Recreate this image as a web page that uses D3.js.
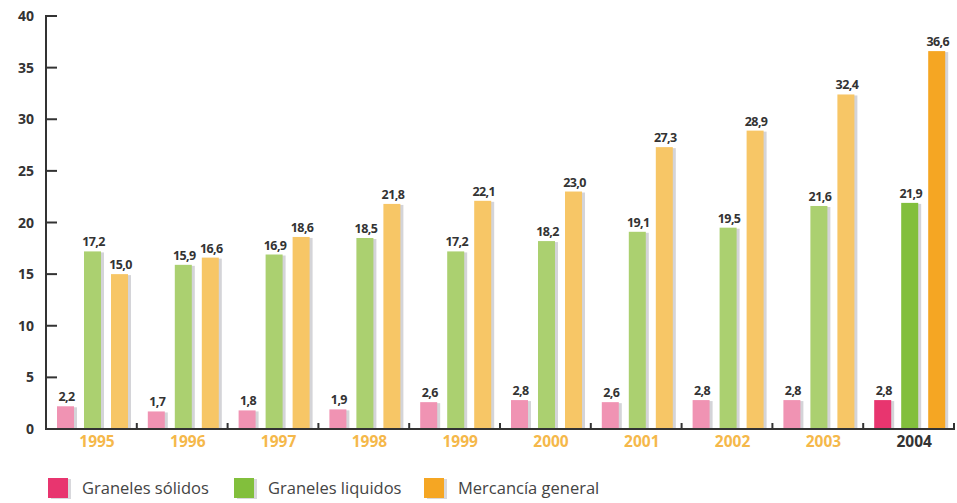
<!DOCTYPE html>
<html><head><meta charset="utf-8">
<script src="https://cdn.jsdelivr.net/npm/d3@7"></script>
<style>body{margin:0;background:#fff}svg{display:block}</style>
</head><body><svg id="c" width="957" height="503"></svg>
<script>
const years = ["1995","1996","1997","1998","1999","2000","2001","2002","2003","2004"];
const series = ["Graneles sólidos","Graneles liquidos","Mercancía general"];
const solidos = [2.2,1.7,1.8,1.9,2.6,2.8,2.6,2.8,2.8,2.8];
const liquidos = [17.2,15.9,16.9,18.5,17.2,18.2,19.1,19.5,21.6,21.9];
const mercancia = [15.0,16.6,18.6,21.8,22.1,23.0,27.3,28.9,32.4,36.6];
const yTicks = [0,5,10,15,20,25,30,35,40];

const paleColors = ["#f093b3","#abd070","#f7c666"];
const strongColors = ["#e8356f","#82bf3c","#f5a623"];
const values = [solidos, liquidos, mercancia];

const svg = d3.select("#c");
const x = d3.scaleBand().domain(years).range([46,954]).padding(0);
const xi = d3.scaleBand().domain(series).range([11,82]).paddingInner(10/27).paddingOuter(0);
const y = d3.scaleLinear().domain([0,40]).range([429,16]);
const font = "'Open Sans', sans-serif";

const data = [];
years.forEach((yr,i)=>series.forEach((s,j)=>data.push({yr,s,j,v:values[j][i],last:i===years.length-1})));

// shadows
svg.append("g").selectAll("rect").data(data).join("rect")
  .attr("x",d=>x(d.yr)+xi(d.s)+3).attr("y",d=>y(d.v)+1)
  .attr("width",xi.bandwidth()).attr("height",d=>y(0)-y(d.v)-1)
  .attr("fill","#d4d4d8");
// bars
svg.append("g").selectAll("rect").data(data).join("rect")
  .attr("x",d=>x(d.yr)+xi(d.s)).attr("y",d=>y(d.v))
  .attr("width",xi.bandwidth()).attr("height",d=>y(0)-y(d.v))
  .attr("fill",d=>d.last?strongColors[d.j]:paleColors[d.j]);
// value labels
svg.append("g").selectAll("text").data(data).join("text")
  .attr("x",d=>x(d.yr)+xi(d.s)+xi.bandwidth()/2+1).attr("y",d=>y(d.v)-5)
  .attr("text-anchor","middle").attr("font-family",font).attr("font-weight","bold")
  .attr("font-size",12.5).attr("letter-spacing","-0.6").attr("fill","#333")
  .text(d=>d.v.toFixed(1).replace(".",","));

// y axis
const yAxis = svg.append("g");
yAxis.append("line").attr("x1",46).attr("x2",46).attr("y1",15).attr("y2",430).attr("stroke","#333").attr("stroke-width",2);
yAxis.selectAll("line.t").data(yTicks).join("line").attr("class","t")
  .attr("x1",46).attr("x2",57).attr("y1",d=>y(d)).attr("y2",d=>y(d)).attr("stroke","#333").attr("stroke-width",2);
yAxis.selectAll("text").data(yTicks).join("text")
  .attr("x",34).attr("y",d=>y(d)+5).attr("text-anchor","end")
  .attr("font-family",font).attr("font-weight","bold").attr("font-size",14).attr("fill","#333")
  .text(d=>d);

// x axis
const xAxis = svg.append("g");
xAxis.append("line").attr("x1",45).attr("x2",955).attr("y1",429).attr("y2",429).attr("stroke","#333").attr("stroke-width",2);
xAxis.selectAll("line.t").data(years).join("line").attr("class","t")
  .attr("x1",d=>x(d)+x.bandwidth()).attr("x2",d=>x(d)+x.bandwidth())
  .attr("y1",429).attr("y2",423).attr("stroke","#333").attr("stroke-width",2);
xAxis.selectAll("text").data(years).join("text")
  .attr("x",d=>x(d)+51).attr("y",447).attr("text-anchor","middle")
  .attr("font-family",font).attr("font-weight","bold").attr("font-size",15.5)
  .attr("fill",(d,i)=>i===years.length-1?"#333":"#f5b84a")
  .text(d=>d);

// legend
const legX = [48,234,424];
const leg = svg.append("g").selectAll("g").data(series).join("g")
  .attr("transform",(d,i)=>`translate(${legX[i]},478)`);
leg.append("rect").attr("x",3).attr("y",1).attr("width",20).attr("height",20).attr("fill","#d8d8dc");
leg.append("rect").attr("width",20).attr("height",20).attr("fill",(d,i)=>strongColors[i]);
leg.append("text").attr("x",34).attr("y",16).attr("font-family",font).attr("font-size",16.5)
  .attr("fill","#444").text(d=>d);
</script></body></html>
